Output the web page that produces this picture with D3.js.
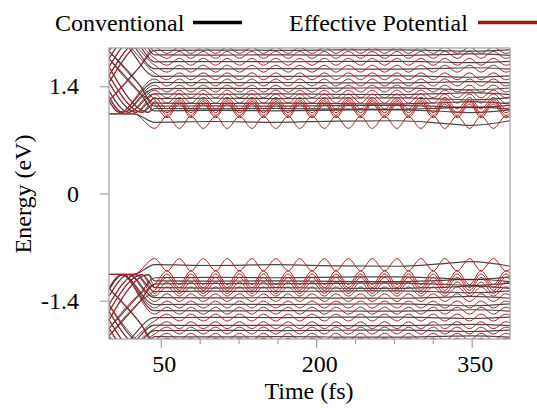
<!DOCTYPE html>
<html>
<head>
<meta charset="utf-8">
<script src="https://cdn.jsdelivr.net/npm/d3@7"></script>
<style>
  body { margin: 0; background: #fff; }
  text { font-family: "Liberation Serif", "Times New Roman", serif; }
</style>
</head>
<body>
<svg id="chart" width="537" height="408"></svg>
<script>
// axis ticks
const xTicks = [50, 200, 350];
const xMinorTicks = [87.5, 125, 162.5, 237.5, 275, 312.5];
const yTicks = [-1.4, 0, 1.4];

// times (fs) of the crests and troughs of the effective-potential wiggle
const oscTimes = [44, 56, 68, 79, 91, 103, 114, 126, 138, 149, 161, 173, 184, 196, 208, 219,
  231, 243, 254, 266, 278, 289, 301, 313, 324, 336, 348, 359, 371, 383, 394];
// slow drift of the conventional lines (eV, relative to their level)
const driftTimes = [44, 100, 160, 220, 280, 320, 350, 387];
const driftValues = [0, 0.01, 0, 0.015, 0.02, -0.01, -0.04, 0.02];

// conduction band: energy at t=0, bend of the ramp (time, energy), steady level,
// half height of the red wiggle, its sign at the first crest, scale of the slow drift
const condStart = [1.04, 1.76, 1.65, 1.86, 1.54, 1.45, 1.34, 1.26, 1.21, 1.86, 1.76, 1.65, 1.54, 1.21, 1.45];
const condTurnT = [24, 30, 38, 30, 32, 26, 19, 13, 10, 9, 16, 23, 31, 30, 37];
const condTurnE = [1.04, 1.31, 1.06, 1.41, 1.06, 1.06, 1.06, 1.06, 1.06, 2.0, 2.0, 2.0, 2.0, 1.66, 2.0];
const condLevel = [0.93, 1.08, 1.11, 1.14, 1.18, 1.24, 1.30, 1.37, 1.45, 1.53, 1.63, 1.72, 1.81, 1.87, 1.96];
const condSwing = [0.08, 0.09, 0.09, 0.085, 0.075, 0.06, 0.05, 0.045, 0.045, 0.045, 0.045, 0.045, 0.045, 0.04, 0.04];
const condPhase = [-1, 1, 1, 1, 1, 1, 1, 1, 1, 1, 1, 1, 1, 1, 1];
const condDrift = [1, 0.6, -0.5, 0.5, -0.5, 0.4, -0.4, 0.4, -0.3, 0.3, -0.3, 0.3, -0.3, 0.3, -0.3];

// valence band, same columns
const valStart = [-1.055, -1.76, -1.65, -1.86, -1.54, -1.45, -1.34, -1.26, -1.24, -1.86, -1.76, -1.65, -1.54, -1.24, -1.45];
const valTurnT = [24, 30, 38, 30, 32, 26, 19, 13, 12, 9, 16, 23, 31, 30, 37];
const valTurnE = [-1.055, -1.31, -1.06, -1.41, -1.06, -1.06, -1.06, -1.06, -1.06, -2.0, -2.0, -2.0, -2.0, -1.69, -2.0];
const valLevel = [-0.93, -1.10, -1.14, -1.18, -1.23, -1.28, -1.36, -1.45, -1.53, -1.62, -1.72, -1.79, -1.87, -1.93, -1.98];
const valSwing = [0.08, 0.09, 0.09, 0.085, 0.075, 0.06, 0.05, 0.045, 0.045, 0.045, 0.045, 0.045, 0.045, 0.04, 0.04];
const valPhase = [1, -1, -1, -1, -1, -1, -1, -1, -1, -1, -1, -1, -1, -1, -1];
const valDrift = [-1, 0.6, -0.5, 0.5, -0.5, 0.4, -0.4, 0.4, -0.3, 0.3, -0.3, 0.3, -0.3, 0.3, -0.3];

const svg = d3.select("#chart");
const margin = { left: 109, right: 27, top: 48, bottom: 69 };
const W = 537, H = 408;

const x = d3.scaleLinear().domain([0, 387]).range([margin.left, W - margin.right]);
const y = d3.scaleLinear().domain([-1.9, 1.9]).range([H - margin.bottom, margin.top]);

// build the curves of one band
function bandCurves(start, turnT, turnE, level, swing, phase, drift) {
  return start.map((e0, i) => {
    const ramp = [[0, e0], [turnT[i], turnE[i]]];
    const red = ramp.concat(oscTimes.map((t, k) =>
      [t, level[i] + (k % 2 ? -1 : 1) * phase[i] * swing[i]]));
    const black = ramp.concat(driftTimes.map((t, k) =>
      [t, level[i] + drift[i] * driftValues[k]]));
    return { red, black };
  });
}

const curves = bandCurves(condStart, condTurnT, condTurnE, condLevel, condSwing, condPhase, condDrift)
  .concat(bandCurves(valStart, valTurnT, valTurnE, valLevel, valSwing, valPhase, valDrift));

svg.append("clipPath").attr("id", "plot-clip")
  .append("rect")
  .attr("x", x.range()[0]).attr("y", y.range()[1])
  .attr("width", x.range()[1] - x.range()[0])
  .attr("height", y.range()[0] - y.range()[1]);

const line = d3.line()
  .x(d => x(d[0]))
  .y(d => y(d[1]))
  .curve(d3.curveMonotoneX);

const plot = svg.append("g").attr("clip-path", "url(#plot-clip)");

plot.selectAll("path.conv")
  .data(curves)
  .enter()
  .append("path")
  .attr("class", "conv")
  .attr("d", d => line(d.black))
  .attr("fill", "none")
  .attr("stroke", "#1a1a1a")
  .attr("stroke-opacity", 0.8)
  .attr("stroke-width", 1.2);

plot.selectAll("path.eff")
  .data(curves)
  .enter()
  .append("path")
  .attr("class", "eff")
  .attr("d", d => line(d.red))
  .attr("fill", "none")
  .attr("stroke", "#b02020")
  .attr("stroke-width", 1);

// frame
svg.append("rect")
  .attr("x", x.range()[0]).attr("y", y.range()[1])
  .attr("width", x.range()[1] - x.range()[0])
  .attr("height", y.range()[0] - y.range()[1])
  .attr("fill", "none")
  .attr("stroke", "#a0a0a0")
  .attr("stroke-width", 1.2);

// axes
const xAxis = svg.append("g")
  .attr("transform", `translate(0,${y.range()[0]})`)
  .call(d3.axisBottom(x).tickValues(xTicks).tickSize(9).tickPadding(7).tickFormat(d3.format("d")));
svg.append("g")
  .attr("transform", `translate(0,${y.range()[0]})`)
  .call(d3.axisBottom(x).tickValues(xMinorTicks).tickSize(5).tickFormat(""));
const yAxis = svg.append("g")
  .attr("transform", `translate(${x.range()[0]},0)`)
  .call(d3.axisLeft(y).tickValues(yTicks).tickSize(9).tickPadding(21).tickFormat(d => String(d)));

svg.selectAll(".domain").remove();
svg.selectAll(".tick line").attr("stroke", "#a0a0a0").attr("stroke-width", 1.2);
svg.selectAll(".tick text")
  .attr("fill", "#000")
  .style("font-family", '"Liberation Serif", "Times New Roman", serif')
  .style("font-size", "24px");
xAxis.selectAll(".tick text").attr("dx", 3);

// axis titles
svg.append("text")
  .attr("x", 309).attr("y", 399)
  .attr("text-anchor", "middle")
  .style("font-size", "24px")
  .text("Time (fs)");
svg.append("text")
  .attr("transform", "translate(31,194) rotate(-90)")
  .attr("text-anchor", "middle")
  .style("font-size", "24px")
  .text("Energy (eV)");

// legend
const legend = [
  { label: "Conventional", color: "#000", tx: 55, x1: 193, x2: 242 },
  { label: "Effective Potential", color: "#a01515", tx: 289, x1: 478, x2: 545 }
];
const lg = svg.selectAll("g.legend").data(legend).enter().append("g").attr("class", "legend");
lg.append("text")
  .attr("x", d => d.tx).attr("y", 31)
  .style("font-size", "24px")
  .text(d => d.label);
lg.append("line")
  .attr("x1", d => d.x1).attr("x2", d => d.x2)
  .attr("y1", 22.5).attr("y2", 22.5)
  .attr("stroke", d => d.color)
  .attr("stroke-width", 3.5);
</script>
</body>
</html>
